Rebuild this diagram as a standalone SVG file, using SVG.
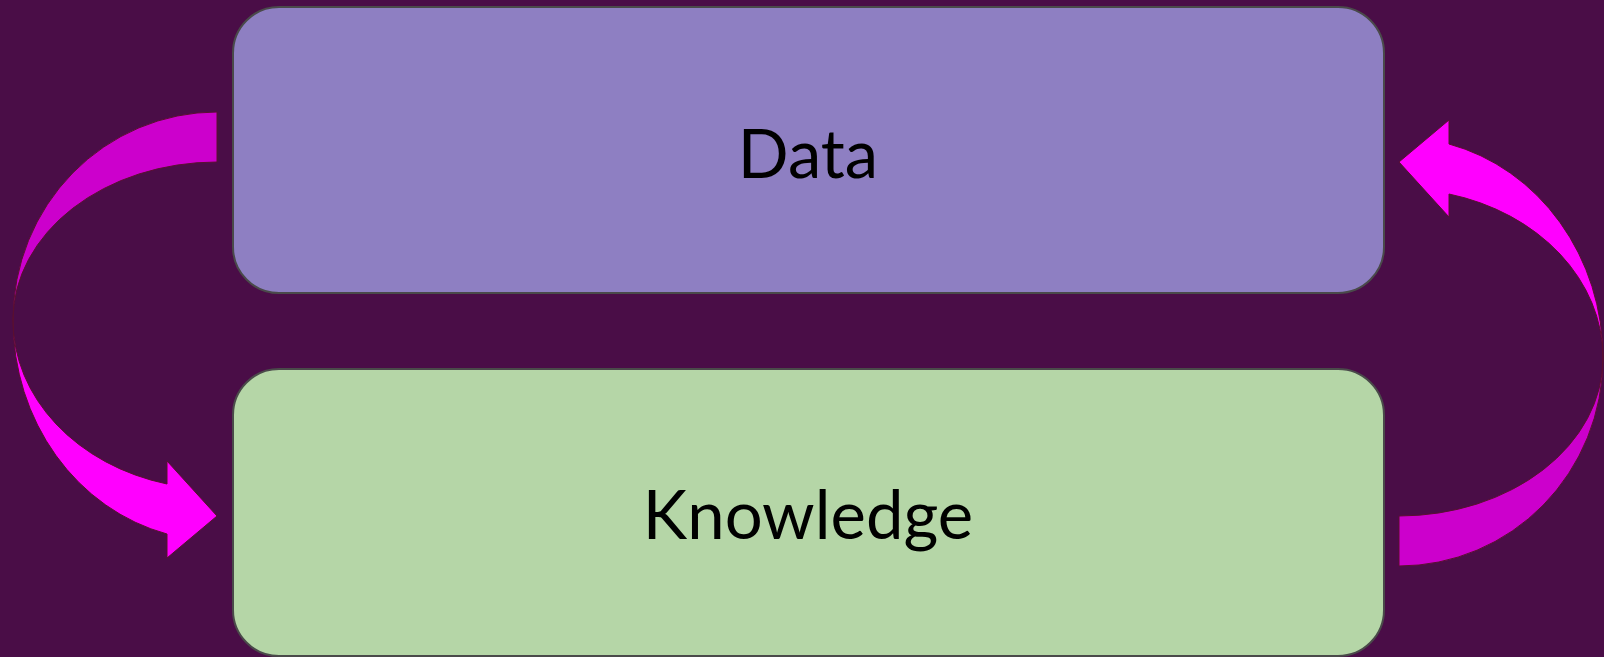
<svg xmlns="http://www.w3.org/2000/svg" width="1604" height="657" viewBox="0 0 1604 657">
<style>
.box{stroke:#4a4a4a;stroke-width:2}
.lbl{font-family:Lato,"Open Sans",sans-serif;font-size:67px;fill:#000;text-anchor:middle}
.dark{fill:#CC00CC;stroke:#5a1030;stroke-width:1}
.bright{fill:#FF00FF;stroke:#5a1030;stroke-width:1}
</style>
<rect width="1604" height="657" fill="#4A0D47"/>
<g id="data">
<rect class="box" x="233" y="7" width="1151" height="286" rx="46" ry="46" fill="#8E7FC2"/>
<text class="lbl" x="808" y="178">Data</text>
</g>
<g id="knowledge">
<rect class="box" x="233" y="369" width="1151" height="287" rx="46" ry="46" fill="#B5D6A7"/>
<text class="lbl" x="808" y="539">Knowledge</text>
</g>
<g id="connectors">
<g id="arrow-left">
<path class="dark" d="M217,112 A204,208 0 0 0 13,320 A204,158 0 0 1 217,162 Z"/>
<path class="bright" d="M13,320 A204,220.7 0 0 0 167,534 L167,558 L217,516 L167,461 L167,484 A204,169 0 0 1 13,320 Z"/>
</g>
<g id="arrow-right" transform="rotate(180 808 339)">
<path class="dark" d="M217,112 A204,208 0 0 0 13,320 A204,158 0 0 1 217,162 Z"/>
<path class="bright" d="M13,320 A204,220.7 0 0 0 167,534 L167,558 L217,516 L167,461 L167,484 A204,169 0 0 1 13,320 Z"/>
</g>
</g>
</svg>
